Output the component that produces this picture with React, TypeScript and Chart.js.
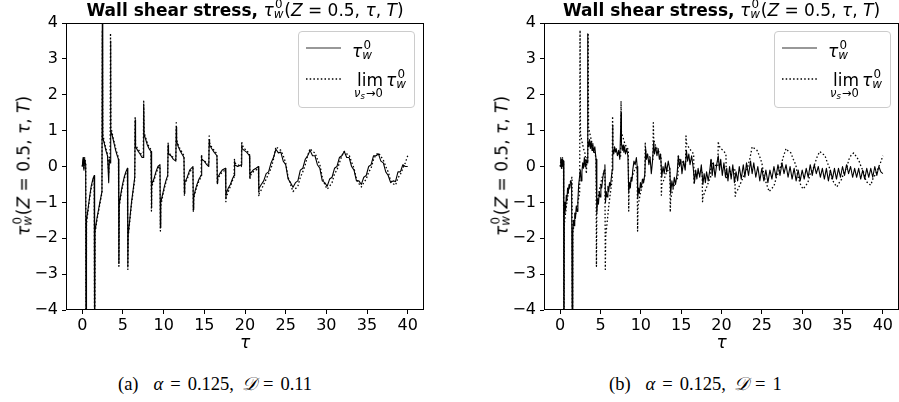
import React, { useEffect, useRef } from 'react';
import { Chart, registerables } from 'chart.js';

Chart.register(...registerables);

// ---------- data ----------
const xTicks = [0, 5, 10, 15, 20, 25, 30, 35, 40];
const yTicks = [-4, -3, -2, -1, 0, 1, 2, 3, 4];

// limit curve (dotted), shared by both panels
const tauLim = [
  0.0, 0.1, 0.2, 0.3, 0.42, 0.47, 0.52, 0.7, 0.9, 1.1,
  1.3, 1.47, 1.52, 1.57, 1.8, 2.0, 2.2, 2.42, 2.47, 2.52,
  2.7, 2.9, 3.1, 3.25, 3.32, 3.42, 3.47, 3.52, 3.7, 3.9,
  4.1, 4.3, 4.45, 4.5, 4.55, 4.75, 4.95, 5.15, 5.35, 5.55,
  5.6, 5.65, 5.85, 6.05, 6.25, 6.45, 6.5, 6.55, 6.8, 7.1,
  7.35, 7.5, 7.55, 7.6, 7.8, 8.0, 8.2, 8.45, 8.5, 8.55,
  8.8, 9.05, 9.3, 9.55, 9.6, 9.65, 9.9, 10.1, 10.3, 10.5,
  10.55, 10.6, 10.9, 11.2, 11.5, 11.55, 11.6, 11.8, 12.0, 12.25,
  12.5, 12.55, 12.6, 12.9, 13.2, 13.6, 13.65, 13.7, 13.9, 14.1,
  14.35, 14.6, 14.65, 14.7, 15.0, 15.3, 15.55, 15.6, 15.65, 15.9,
  16.2, 16.55, 16.6, 16.65, 16.9, 17.2, 17.6, 17.65, 17.7, 17.95,
  18.2, 18.45, 18.65, 18.7, 18.75, 19.1, 19.55, 19.6, 19.65, 19.9,
  20.2, 20.55, 20.6, 20.65, 21.0, 21.35, 21.65, 21.7, 21.75, 22.0,
  22.3, 22.6, 22.9, 23.2, 23.5, 23.8, 24.1, 24.4, 24.7, 25.0,
  25.3, 25.6, 25.9, 26.2, 26.5, 26.8, 27.1, 27.4, 27.7, 28.0,
  28.3, 28.6, 28.9, 29.2, 29.5, 29.8, 30.1, 30.4, 30.7, 31.0,
  31.3, 31.6, 31.9, 32.2, 32.5, 32.8, 33.1, 33.4, 33.7, 34.0,
  34.3, 34.6, 34.9, 35.2, 35.5, 35.8, 36.1, 36.4, 36.7, 37.0,
  37.3, 37.6, 37.9, 38.2, 38.5, 38.8, 39.1, 39.4, 39.7, 40.0,
];
const limVals = [
  0.0, 0.2, -0.05, 0.25, 0.1, -6, -1.6, -1.25, -0.9, -0.6,
  -0.4, -0.3, -6, -1.85, -1.5, -1.25, -1.0, -0.73, 3.8, 0.9,
  0.7, 0.5, 0.35, -0.2, 0.25, 0.15, 3.72, 1.1, 0.9, 0.7,
  0.5, 0.35, 0.25, -2.78, -1.1, -0.8, -0.55, -0.35, -0.2, -0.1,
  -2.87, -1.94, -1.5, -1.05, -0.7, -0.36, 1.4, 0.6, 0.5, 0.4,
  0.3, 0.29, 1.82, 0.95, 0.8, 0.65, 0.55, 0.47, -1.24, -0.55,
  -0.4, -0.2, -0.05, 0.0, -1.8, -1.1, -0.8, -0.6, -0.42, -0.27,
  0.65, 0.4, 0.3, 0.25, 0.2, 1.22, 0.75, 0.6, 0.5, 0.4,
  0.3, -0.8, -0.5, -0.35, -0.15, -0.05, -1.27, -0.9, -0.7, -0.55,
  -0.4, -0.3, 0.33, 0.2, 0.15, 0.1, 0.05, 0.85, 0.65, 0.55,
  0.45, 0.35, -0.5, -0.35, -0.25, -0.15, -0.1, -0.98, -0.85, -0.7,
  -0.55, -0.4, -0.3, 0.2, 0.1, 0.05, 0.0, 0.7, 0.6, 0.5,
  0.45, 0.35, -0.36, -0.25, -0.15, -0.1, -0.05, -0.83, -0.75, -0.65,
  -0.5, -0.35, -0.2, -0.05, 0.2, 0.55, 0.5, 0.45, 0.3, 0.1,
  -0.3, -0.5, -0.7, -0.62, -0.55, -0.3, -0.15, 0.05, 0.3, 0.5,
  0.42, 0.38, 0.2, 0.05, -0.3, -0.5, -0.63, -0.55, -0.45, -0.2,
  -0.1, 0.1, 0.3, 0.42, 0.35, 0.32, 0.12, -0.05, -0.35, -0.48,
  -0.57, -0.45, -0.35, -0.15, -0.05, 0.2, 0.33, 0.38, 0.28, 0.18,
  0.0, -0.15, -0.4, -0.48, -0.52, -0.32, -0.22, -0.05, 0.1, 0.3,
];

// panel (a): wall shear stress, D = 0.11 (on the tauLim grid)
const wallA = [
  0.0, 0.25, -0.1, 0.2, 0.05, -6, -1.5, -1.2, -0.85, -0.55,
  -0.35, -0.25, -6, -1.8, -1.45, -1.2, -0.95, -0.7, 5.0, 0.8,
  0.65, 0.45, 0.3, -0.45, 0.2, 0.1, 3.5, 1.0, 0.85, 0.65,
  0.45, 0.3, 0.2, -2.7, -1.05, -0.75, -0.5, -0.3, -0.15, -0.05,
  -2.8, -1.9, -1.45, -1.0, -0.65, -0.3, 1.3, 0.55, 0.45, 0.35,
  0.25, 0.25, 1.7, 0.9, 0.75, 0.6, 0.5, 0.42, -1.15, -0.5,
  -0.35, -0.15, 0.0, 0.05, -1.7, -1.0, -0.75, -0.55, -0.38, -0.25,
  0.6, 0.35, 0.3, 0.2, 0.15, 1.1, 0.7, 0.55, 0.45, 0.35,
  0.25, -0.75, -0.45, -0.3, -0.1, 0.0, -1.2, -0.85, -0.65, -0.5,
  -0.35, -0.25, 0.3, 0.2, 0.15, 0.05, 0.0, 0.75, 0.6, 0.5,
  0.4, 0.3, -0.45, -0.3, -0.2, -0.1, -0.05, -0.9, -0.75, -0.6,
  -0.5, -0.35, -0.25, 0.15, 0.05, 0.0, 0.05, 0.6, 0.5, 0.45,
  0.4, 0.3, -0.3, -0.2, -0.1, -0.05, 0.0, -0.7, -0.6, -0.5,
  -0.4, -0.2, -0.15, 0.1, 0.25, 0.48, 0.38, 0.4, 0.15, 0.05,
  -0.35, -0.45, -0.58, -0.45, -0.4, -0.1, -0.05, 0.2, 0.3, 0.45,
  0.3, 0.3, 0.05, -0.05, -0.4, -0.45, -0.55, -0.35, -0.3, -0.05,
  0.0, 0.25, 0.3, 0.42, 0.25, 0.25, 0.0, -0.1, -0.4, -0.4,
  -0.5, -0.3, -0.25, 0.0, 0.05, 0.3, 0.3, 0.35, 0.15, 0.1,
  -0.15, -0.25, -0.45, -0.4, -0.42, -0.15, -0.15, 0.05, 0.0, 0.0,
];

// panel (b): wall shear stress, D = 1
const tauB = [
  0.0, 0.08, 0.16, 0.24, 0.32, 0.42, 0.47, 0.52, 0.6, 0.68,
  0.76, 0.84, 0.92, 1.0, 1.1, 1.2, 1.3, 1.42, 1.52, 1.57,
  1.65, 1.73, 1.81, 1.9, 2.0, 2.1, 2.2, 2.3, 2.4, 2.5,
  2.6, 2.7, 2.8, 2.9, 3.0, 3.1, 3.2, 3.35, 3.4, 3.45,
  3.55, 3.65, 3.75, 3.85, 3.95, 4.05, 4.15, 4.3, 4.45, 4.55,
  4.65, 4.75, 4.85, 4.95, 5.05, 5.15, 5.3, 5.45, 5.55, 5.62,
  5.72, 5.82, 5.92, 6.02, 6.12, 6.22, 6.35, 6.45, 6.5, 6.55,
  6.65, 6.75, 6.85, 6.95, 7.1, 7.25, 7.4, 7.55, 7.6, 7.7,
  7.8, 7.9, 8.0, 8.1, 8.25, 8.4, 8.5, 8.6, 8.7, 8.8,
  8.9, 9.0, 9.15, 9.3, 9.45, 9.55, 9.62, 9.72, 9.82, 9.95,
  10.05, 10.2, 10.35, 10.5, 10.6, 10.7, 10.85, 11.0, 11.15, 11.3,
  11.45, 11.6, 11.7, 11.85, 12.0, 12.15, 12.3, 12.45, 12.6, 12.75,
  12.9, 13.05, 13.2, 13.4, 13.6, 13.7, 13.85, 14.0, 14.15, 14.3,
  14.5, 14.65, 14.8, 14.95, 15.1, 15.3, 15.5, 15.65, 15.8, 15.95,
  16.1, 16.3, 16.5, 16.65, 16.8, 16.95, 17.1, 17.3, 17.5, 17.7,
  17.85, 18.0, 18.15, 18.35, 18.55, 18.7, 18.85, 19.0, 19.2, 19.4,
  19.6, 19.75, 19.9, 20.1, 20.3, 20.5, 20.65, 20.8, 21.0, 21.2,
  21.4, 21.6, 21.8, 22.0, 22.2, 22.45, 22.7, 22.9, 23.1, 23.35,
  23.6, 23.8, 24.0, 24.25, 24.5, 24.75, 25.0, 25.25, 25.5, 25.75,
  26.0, 26.25, 26.5, 26.75, 27.0, 27.25, 27.5, 27.75, 28.0, 28.25,
  28.5, 28.75, 29.0, 29.25, 29.5, 29.75, 30.0, 30.25, 30.5, 30.75,
  31.0, 31.25, 31.5, 31.75, 32.0, 32.25, 32.5, 32.75, 33.0, 33.25,
  33.5, 33.75, 34.0, 34.25, 34.5, 34.75, 35.0, 35.25, 35.5, 35.75,
  36.0, 36.25, 36.5, 36.75, 37.0, 37.25, 37.5, 37.75, 38.0, 38.25,
  38.5, 38.75, 39.0, 39.25, 39.5, 39.75, 40.0,
];
const wallB = [
  0.0, 0.25, -0.05, 0.2, 0.0, 0.15, -6, -1.3, -1.0, -1.2,
  -0.8, -0.95, -0.6, -0.75, -0.5, -0.6, -0.4, -0.45, -6, -1.85,
  -1.5, -1.65, -1.3, -1.45, -1.1, -1.25, -0.95, -0.5, -0.3, -0.1,
  -0.4, -0.15, 0.1, -0.05, 0.25, 0.0, 0.2, 0.1, 3.7, 0.75,
  0.55, 0.75, 0.5, 0.7, 0.45, 0.65, 0.4, 0.55, 0.2, -1.3,
  -0.9, -1.05, -0.7, -0.85, -0.5, -0.6, -0.3, -0.1, 0.05, -1.0,
  -0.7, -0.85, -0.55, -0.7, -0.45, -0.55, -0.3, -0.1, 1.15, 0.5,
  0.35, 0.55, 0.4, 0.5, 0.3, 0.45, 0.2, 1.5, 0.65, 0.45,
  0.6, 0.4, 0.55, 0.35, 0.5, 0.3, -0.7, -0.45, -0.6, -0.3,
  -0.4, -0.1, 0.15, 0.05, 0.25, 0.0, -0.9, -0.6, -0.75, -0.45,
  -0.6, -0.35, -0.45, -0.2, 0.5, 0.2, 0.35, 0.05, 0.25, -0.2,
  0.15, 0.7, 0.35, 0.55, 0.3, 0.5, 0.2, 0.35, -0.3, 0.0,
  -0.2, 0.1, -0.15, 0.15, -0.1, -0.75, -0.4, -0.6, -0.3, -0.5,
  -0.2, 0.3, 0.0, 0.2, -0.2, 0.15, -0.1, 0.45, 0.15, 0.35,
  0.05, 0.3, -0.05, -0.45, -0.1, -0.35, -0.05, -0.3, 0.05, -0.5,
  -0.2, -0.45, -0.15, -0.4, -0.1, 0.2, -0.25, 0.1, -0.3, 0.05,
  0.3, -0.1, 0.2, -0.25, 0.1, -0.3, -0.05, -0.4, 0.0, -0.35,
  0.05, -0.45, -0.15, -0.4, 0.0, -0.35, 0.05, -0.3, 0.1, -0.25,
  0.15, -0.2, 0.1, -0.3, 0.0, -0.4, -0.05, -0.4, -0.1, -0.45,
  -0.1, -0.35, 0.0, -0.3, 0.05, -0.25, 0.1, -0.2, 0.05, -0.3,
  0.0, -0.35, -0.05, -0.4, -0.1, -0.4, -0.1, -0.35, -0.05, -0.3,
  0.05, -0.25, 0.05, -0.2, 0.0, -0.3, -0.05, -0.35, -0.05, -0.4,
  -0.1, -0.35, -0.05, -0.35, -0.05, -0.3, 0.0, -0.25, 0.05, -0.2,
  0.0, -0.3, -0.05, -0.3, -0.05, -0.35, -0.1, -0.35, -0.05, -0.3,
  -0.05, -0.3, 0.0, -0.25, 0.0, -0.15, -0.2,
];

const panelLetters = ['(a)', '(b)'];
const alphaValue = '0.125';
const dValues = ['0.11', '1'];
const titleBold = 'Wall shear stress,';

// ---------- helpers ----------
const FONT = "'DejaVu Sans', sans-serif";

function pairs(xs: number[], ys: number[]) {
  const n = Math.min(xs.length, ys.length);
  const out: { x: number; y: number }[] = [];
  for (let i = 0; i < n; i++) out.push({ x: xs[i], y: ys[i] });
  return out;
}

const fmtMinus = (v: number) => (v < 0 ? '\u2212' + Math.abs(v) : String(v));

const framePlugin = {
  id: 'frameBox',
  afterDraw(chart: any) {
    const { ctx, chartArea: a } = chart;
    ctx.save();
    ctx.strokeStyle = '#000';
    ctx.lineWidth = 1;
    const l = Math.round(a.left) + 0.5;
    const t = Math.round(a.top) + 0.5;
    const r = Math.round(a.right) - 0.5;
    const b = Math.round(a.bottom) - 0.5;
    ctx.strokeRect(l, t, r - l, b - t);
    ctx.restore();
  },
};

function Plot(props: { left: number; width: number; yWidth: number; padRight: number; tau: number[]; wall: number[] }) {
  const ref = useRef<HTMLCanvasElement>(null);
  const { left, width, yWidth, padRight, tau, wall } = props;
  useEffect(() => {
    const tickCommon = {
      display: true,
      drawOnChartArea: false,
      drawTicks: true,
      tickLength: 4,
      color: '#000',
      lineWidth: 1,
    };
    const chart = new Chart(ref.current as HTMLCanvasElement, {
      type: 'scatter',
      data: {
        datasets: [
          {
            data: pairs(tauLim, limVals),
            showLine: true,
            borderColor: '#000',
            borderWidth: 1.3,
            borderDash: [1.5, 2.2],
            borderJoinStyle: 'round',
            pointRadius: 0,
            tension: 0,
          },
          {
            data: pairs(tau, wall),
            showLine: true,
            borderColor: '#000',
            borderWidth: 1.1,
            borderJoinStyle: 'round',
            pointRadius: 0,
            tension: 0,
          },
        ],
      } as any,
      options: {
        animation: false,
        responsive: false,
        devicePixelRatio: 1,
        events: [],
        layout: { padding: { left: 0, right: padRight, top: 23, bottom: 0 } },
        plugins: { legend: { display: false }, tooltip: { enabled: false }, title: { display: false } },
        scales: {
          x: {
            type: 'linear',
            min: -2,
            max: 42,
            afterBuildTicks: (s: any) => {
              s.ticks = xTicks.map((v) => ({ value: v }));
            },
            afterFit: (s: any) => {
              s.height = 30;
            },
            grid: tickCommon,
            border: { display: false },
            ticks: {
              color: '#000',
              font: { family: FONT, size: 16 },
              padding: 2,
              maxRotation: 0,
              autoSkip: false,
              callback: (v: any) => fmtMinus(Number(v)),
            },
          },
          y: {
            type: 'linear',
            min: -4,
            max: 4,
            afterBuildTicks: (s: any) => {
              s.ticks = yTicks.map((v) => ({ value: v }));
            },
            afterFit: (s: any) => {
              s.width = yWidth;
            },
            grid: tickCommon,
            border: { display: false },
            ticks: {
              color: '#000',
              font: { family: FONT, size: 16 },
              padding: 4,
              autoSkip: false,
              callback: (v: any) => fmtMinus(Number(v)),
            },
          },
        },
      } as any,
      plugins: [framePlugin],
    });
    return () => chart.destroy();
  }, []);
  return (
    <canvas
      ref={ref}
      width={width}
      height={340}
      style={{ position: 'absolute', left, top: 0, width, height: 340 }}
    />
  );
}

// tau with superscript 0 and subscript w
function TauW0({ fs }: { fs: number }) {
  return (
    <span style={{ whiteSpace: 'nowrap' }}>
      <span style={{ fontStyle: 'italic' }}>τ</span>
      <span style={{ display: 'inline-block', position: 'relative', width: 0.62 * fs, height: 0.8 * fs }}>
        <span style={{ position: 'absolute', left: 0.08 * fs, top: -0.22 * fs, fontSize: 0.7 * fs, lineHeight: 1 }}>0</span>
        <span style={{ position: 'absolute', left: 0.0, top: 0.4 * fs, fontSize: 0.7 * fs, lineHeight: 1, fontStyle: 'italic' }}>w</span>
      </span>
    </span>
  );
}

function ArgText({ fs }: { fs: number }) {
  return (
    <span>
      <TauW0 fs={fs} />(<i>Z</i>&nbsp;=&nbsp;0.5,&nbsp;<i>τ</i>,&nbsp;<i>T</i>)
    </span>
  );
}

function Title({ cx }: { cx: number }) {
  return (
    <div
      style={{
        position: 'absolute',
        left: cx,
        top: 2,
        transform: 'translateX(-50%)',
        whiteSpace: 'nowrap',
        fontSize: 17,
        lineHeight: 1,
        fontFamily: FONT,
      }}
    >
      <b>{titleBold}</b> <ArgText fs={17} />
    </div>
  );
}

function YLabel({ cx }: { cx: number }) {
  return (
    <div
      style={{
        position: 'absolute',
        left: cx,
        top: 166,
        transform: 'translate(-50%, -50%) rotate(-90deg)',
        whiteSpace: 'nowrap',
        fontSize: 17,
        lineHeight: 1,
        fontFamily: FONT,
      }}
    >
      <ArgText fs={17} />
    </div>
  );
}

function XLabel({ cx }: { cx: number }) {
  return (
    <div
      style={{
        position: 'absolute',
        left: cx,
        top: 334,
        transform: 'translateX(-50%)',
        fontSize: 17,
        lineHeight: 1,
        fontFamily: FONT,
        fontStyle: 'italic',
      }}
    >
      τ
    </div>
  );
}

function SampleLine({ top, dotted }: { top: number; dotted: boolean }) {
  return (
    <svg style={{ position: 'absolute', left: 7, top: top - 2 }} width={36} height={4}>
      <line
        x1={0}
        y1={2}
        x2={35}
        y2={2}
        stroke={dotted ? '#000' : '#333'}
        strokeWidth={dotted ? 1.3 : 1.2}
        strokeDasharray={dotted ? '1.5 2.2' : undefined}
      />
    </svg>
  );
}

function Legend({ left }: { left: number }) {
  const fs = 17;
  return (
    <div
      style={{
        position: 'absolute',
        left,
        top: 31,
        width: 115,
        height: 75,
        border: '1px solid #cccccc',
        borderRadius: 4,
        background: 'rgba(255,255,255,0.8)',
        fontFamily: FONT,
        fontSize: fs,
        lineHeight: 1,
      }}
    >
      <SampleLine top={16} dotted={false} />
      <div style={{ position: 'absolute', left: 53, top: 11, whiteSpace: 'nowrap' }}>
        <TauW0 fs={fs} />
      </div>
      <SampleLine top={47} dotted={true} />
      <div style={{ position: 'absolute', left: 58, top: 40, whiteSpace: 'nowrap' }}>lim</div>
      <div style={{ position: 'absolute', left: 55, top: 56, whiteSpace: 'nowrap', fontSize: 11.5 }}>
        <i>ν</i>
        <span style={{ fontSize: 8.5, fontStyle: 'italic', position: 'relative', top: 2 }}>s</span>
        <span style={{ marginLeft: 1 }}>→0</span>
      </div>
      <div style={{ position: 'absolute', left: 87, top: 40, whiteSpace: 'nowrap' }}>
        <TauW0 fs={fs} />
      </div>
    </div>
  );
}

function Caption({ left, letter, d }: { left: number; letter: string; d: string }) {
  const gap = (w: number) => <span style={{ display: 'inline-block', width: w }} />;
  return (
    <div
      style={{
        position: 'absolute',
        left,
        top: 375,
        whiteSpace: 'nowrap',
        fontFamily: "'Liberation Serif', 'DejaVu Serif', serif",
        fontSize: 18.5,
        lineHeight: 1,
      }}
    >
      {letter}
      {gap(15)}
      <i>α</i>
      {gap(7)}={gap(7)}
      {alphaValue},{gap(8)}
      <i>𝒟</i>
      {gap(6)}={gap(7)}
      {d}
    </div>
  );
}

export default function App() {
  return (
    <div style={{ position: 'absolute', left: 0, top: 0, width: 899, height: 402, background: '#fff', overflow: 'hidden' }}>
      <Plot left={0} width={440} yWidth={66} padRight={16} tau={tauLim} wall={wallA} />
      <Plot left={450} width={449} yWidth={94} padRight={0} tau={tauB} wall={wallB} />
      <Title cx={245} />
      <Title cx={721.5} />
      <YLabel cx={24} />
      <YLabel cx={502} />
      <XLabel cx={245} />
      <XLabel cx={721.5} />
      <Legend left={298} />
      <Legend left={774} />
      <Caption left={118} letter={panelLetters[0]} d={dValues[0]} />
      <Caption left={609} letter={panelLetters[1]} d={dValues[1]} />
    </div>
  );
}
